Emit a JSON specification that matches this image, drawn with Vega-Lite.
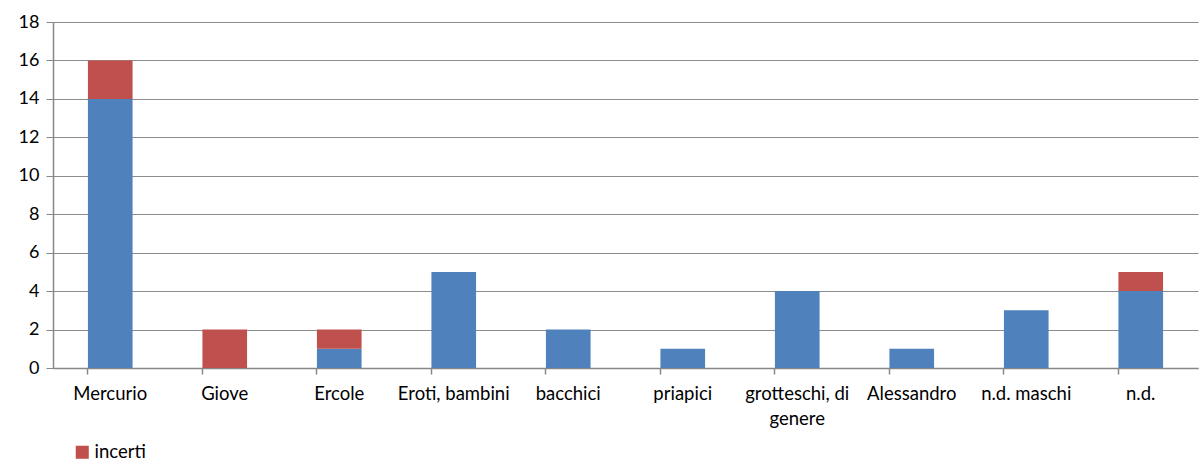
{
  "$schema": "https://vega.github.io/schema/vega-lite/v6.json",
  "width": 1145,
  "height": 346,
  "autosize": {"type": "none"},
  "padding": {"left": 53, "top": 22, "right": 2, "bottom": 93},
  "background": "white",
  "config": {
    "font": "Lato",
    "view": {"stroke": null},
    "axis": {"labelFont": "Lato", "labelColor": "#000000", "labelFontSize": 18}
  },
  "data": {
    "values": [
      {"cat": "Mercurio", "serie": "certi", "ord": 1, "n": 14},
      {"cat": "Mercurio", "serie": "incerti", "ord": 2, "n": 2},
      {"cat": "Giove", "serie": "certi", "ord": 1, "n": 0},
      {"cat": "Giove", "serie": "incerti", "ord": 2, "n": 2},
      {"cat": "Ercole", "serie": "certi", "ord": 1, "n": 1},
      {"cat": "Ercole", "serie": "incerti", "ord": 2, "n": 1},
      {"cat": "Eroti, bambini", "serie": "certi", "ord": 1, "n": 5},
      {"cat": "Eroti, bambini", "serie": "incerti", "ord": 2, "n": 0},
      {"cat": "bacchici", "serie": "certi", "ord": 1, "n": 2},
      {"cat": "bacchici", "serie": "incerti", "ord": 2, "n": 0},
      {"cat": "priapici", "serie": "certi", "ord": 1, "n": 1},
      {"cat": "priapici", "serie": "incerti", "ord": 2, "n": 0},
      {"cat": "grotteschi, di genere", "serie": "certi", "ord": 1, "n": 4},
      {"cat": "grotteschi, di genere", "serie": "incerti", "ord": 2, "n": 0},
      {"cat": "Alessandro", "serie": "certi", "ord": 1, "n": 1},
      {"cat": "Alessandro", "serie": "incerti", "ord": 2, "n": 0},
      {"cat": "n.d. maschi", "serie": "certi", "ord": 1, "n": 3},
      {"cat": "n.d. maschi", "serie": "incerti", "ord": 2, "n": 0},
      {"cat": "n.d.", "serie": "certi", "ord": 1, "n": 4},
      {"cat": "n.d.", "serie": "incerti", "ord": 2, "n": 1}
    ]
  },
  "mark": {"type": "bar"},
  "encoding": {
    "x": {
      "field": "cat", "type": "nominal", "sort": null,
      "scale": {"paddingInner": 0.61, "paddingOuter": 0.305},
      "axis": {
        "orient": "bottom", "title": null, "labelAngle": 0,
        "bandPosition": 0, "ticks": true, "tickSize": 6, "tickColor": "#888888", "tickWidth": 1.5,
        "labelDx": 57.25, "labelPadding": 10, "labelAlign": "center",
        "domainColor": "#888888", "domainWidth": 1.5,
        "labelFontSize": 18.5, "labelOverlap": false, "labelBound": false,
        "labelExpr": "datum.label == 'grotteschi, di genere' ? ['grotteschi, di', 'genere'] : datum.label",
        "labelLineHeight": 25
      }
    },
    "y": {
      "field": "n", "type": "quantitative", "stack": "zero",
      "scale": {"domain": [0, 18]},
      "axis": {
        "title": null, "values": [0, 2, 4, 6, 8, 10, 12, 14, 16, 18],
        "labelOverlap": false,
        "grid": true, "gridColor": "#8c8c8c", "gridWidth": 1.2,
        "domainColor": "#888888", "domainWidth": 1.5,
        "tickColor": "#888888", "tickSize": 7, "labelPadding": 7, "labelFontSize": 18
      }
    },
    "color": {
      "field": "serie", "type": "nominal",
      "scale": {"domain": ["certi", "incerti"], "range": ["#4F81BD", "#C0504D"]},
      "legend": {
        "title": null, "values": ["incerti"], "orient": "none",
        "legendX": 20, "legendY": 421, "symbolType": "square", "symbolSize": 170,
        "symbolStrokeWidth": 0, "labelFontSize": 18.5, "labelOffset": 3, "labelFont": "Lato"
      }
    },
    "order": {"field": "ord", "type": "quantitative"}
  }
}
